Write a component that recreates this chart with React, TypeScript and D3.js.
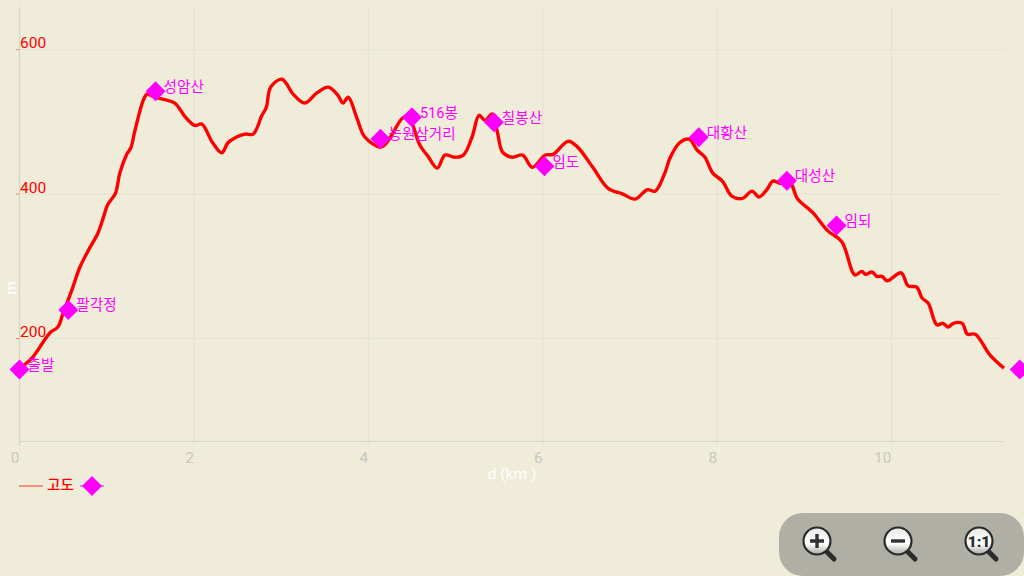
import React from "react";
import * as d3 from "d3";

const distanceKm = [0.05,0.15,0.35,0.44,0.5,0.6,0.69,0.79,0.9,0.96,1.01,1.1,1.15,1.23,1.28,1.32,1.42,1.46,1.55,1.65,1.78,1.9,2.01,2.09,2.21,2.32,2.39,2.49,2.59,2.68,2.78,2.83,2.88,3.01,3.14,3.27,3.41,3.54,3.65,3.71,3.77,3.87,3.96,4.14,4.21,4.39,4.44,4.5,4.59,4.68,4.79,4.88,4.99,5.09,5.19,5.27,5.34,5.42,5.48,5.54,5.65,5.77,5.88,6.03,6.12,6.29,6.4,6.58,6.75,6.92,7.06,7.2,7.29,7.4,7.46,7.57,7.68,7.77,7.86,7.95,8.06,8.17,8.29,8.4,8.48,8.57,8.64,8.72,8.84,8.92,9.1,9.27,9.43,9.58,9.66,9.7,9.78,9.83,9.89,9.95,10.11,10.19,10.29,10.35,10.42,10.52,10.59,10.65,10.71,10.81,10.87,10.96,11.13,11.29];
const elevationM = [163,174,208,216,235,267,298,322,346,367,385,401,429,455,465,486,530,538,534,531,526,507,495,497,472,457,471,479,483,483,509,520,548,559,538,526,540,548,537,526,534,505,479,465,471,505,507,498,468,453,436,454,451,454,479,509,502,511,486,458,451,454,437,454,455,473,465,436,408,400,393,406,404,429,450,471,476,461,451,429,418,397,394,404,396,406,418,415,415,394,374,349,334,288,293,289,292,286,286,280,291,273,271,256,249,219,221,216,221,221,206,206,177,159];

const waypointNames = ["출발","팔각정","성암산","농원삼거리","516봉","칠봉산","임도","대황산","대성산","임되",""];
const waypointKm = [0,0.56,1.56,4.14,4.5,5.44,6.02,7.79,8.8,9.37,11.47];
const waypointM = [157,239.5,542.5,476.5,506.5,499.5,438.5,478.5,418.5,356.5,157];

const xTicks = [0,2,4,6,8,10];
const yTicks = [200,400,600];
const zoomButtons = ["plus","minus","reset"];

const BG = "#EFECD9";
const MAGENTA = "#FF00FF";
const FONT = "Roboto, 'Noto Sans CJK KR', sans-serif";

function Diamond({ cx, cy, r = 10 }: { cx: number; cy: number; r?: number }) {
  return <polygon points={`${cx},${cy - r} ${cx + r},${cy} ${cx},${cy + r} ${cx - r},${cy}`} fill={MAGENTA} />;
}

function Magnifier({ cx, cy, kind }: { cx: number; cy: number; kind: string }) {
  return (
    <g>
      <line x1={cx + 9} y1={cy + 10} x2={cx + 17} y2={cy + 18} stroke="#2b2b2b" strokeWidth={5} strokeLinecap="round" />
      <circle cx={cx} cy={cy} r={13.5} fill="url(#lens)" stroke="#2a2a2a" strokeWidth={2.2} />
      {kind === "plus" && <path d={`M${cx - 7},${cy}H${cx + 7}M${cx},${cy - 7}V${cy + 7}`} stroke="#333" strokeWidth={3.4} />}
      {kind === "minus" && <path d={`M${cx - 7},${cy}H${cx + 7}`} stroke="#333" strokeWidth={3.4} />}
      {kind === "reset" && (
        <text x={cx} y={cy + 5.5} textAnchor="middle" fontSize={15.5} fontWeight={900} fontFamily={FONT} fill="#2a2a2a">1:1</text>
      )}
    </g>
  );
}

export default function App() {
  const x = d3.scaleLinear().domain([0, 11.29]).range([19.5, 1004]);
  const y = d3.scaleLinear().domain([57.4, 659]).range([441.5, 7]);
  const profile = d3
    .line<number>()
    .x((_, i) => x(distanceKm[i]))
    .y((d) => y(d))
    .curve(d3.curveCatmullRom.alpha(0.5));

  return (
    <svg
      width={1024}
      height={576}
      viewBox="0 0 1024 576"
      style={{ position: "fixed", left: 0, top: 0, display: "block", background: BG }}
      fontFamily={FONT}
    >
      <defs>
        <linearGradient id="lens" x1="0" y1="0" x2="0" y2="1">
          <stop offset="0" stopColor="#e8e8e6" />
          <stop offset="0.6" stopColor="#ffffff" />
          <stop offset="1" stopColor="#a8a8a4" />
        </linearGradient>
      </defs>

      {xTicks.slice(1).map((t) => (
        <line key={t} x1={x(t)} x2={x(t)} y1={7} y2={446} stroke="#E3E1D0" strokeWidth={1} />
      ))}
      {yTicks.map((t) => (
        <line key={t} x1={19.5} x2={1004} y1={y(t)} y2={y(t)} stroke="#E5E3D2" strokeWidth={1} />
      ))}
      <line x1={x(0)} x2={x(0)} y1={7} y2={446} stroke="#D6D5CA" strokeWidth={1.2} />
      <line x1={19.5} x2={1004} y1={441.5} y2={441.5} stroke="#D6D5CA" strokeWidth={1.2} />

      {yTicks.map((t) => (
        <g key={t}>
          <line x1={16} x2={19} y1={y(t)} y2={y(t)} stroke="#F08070" strokeWidth={1} />
          <text x={20} y={y(t) - 1.5} fontSize={15.5} fill="#FF0000">{t}</text>
        </g>
      ))}
      {xTicks.map((t) => (
        <text key={t} x={x(t)} y={463} fontSize={15.5} textAnchor="end" fill="#C8C8C0">{t}</text>
      ))}

      <text x={512} y={479} fontSize={15.5} textAnchor="middle" fill="#FFFFFF">d (km )</text>
      <text transform="translate(16,288) rotate(-90)" fontSize={15.5} textAnchor="middle" fill="#FFFFFF">m</text>

      <path d={profile(elevationM) ?? ""} fill="none" stroke="#FF0000" strokeWidth={3.4} strokeLinejoin="round" />

      {waypointNames.map((name, i) => (
        <g key={i}>
          <Diamond cx={x(waypointKm[i])} cy={y(waypointM[i])} />
          {name && (
            <text x={x(waypointKm[i]) + 8} y={y(waypointM[i]) + 0.5} fontSize={14.6} fill={MAGENTA}>{name}</text>
          )}
        </g>
      ))}

      <line x1={19} x2={43} y1={486} y2={486} stroke="#FF3020" strokeWidth={1} />
      <text x={47} y={490} fontSize={14.6} fontWeight={500} fill="#FF0000">고도</text>
      <line x1={80} x2={104} y1={486} y2={486} stroke={MAGENTA} strokeWidth={1} />
      <Diamond cx={92} cy={486} />

      <rect x={779} y={513} width={245} height={63} rx={24} ry={24} fill="#B0AFA6" />
      {zoomButtons.map((kind, i) => (
        <Magnifier key={kind} cx={817 + i * 81} cy={541} kind={kind} />
      ))}
    </svg>
  );
}
